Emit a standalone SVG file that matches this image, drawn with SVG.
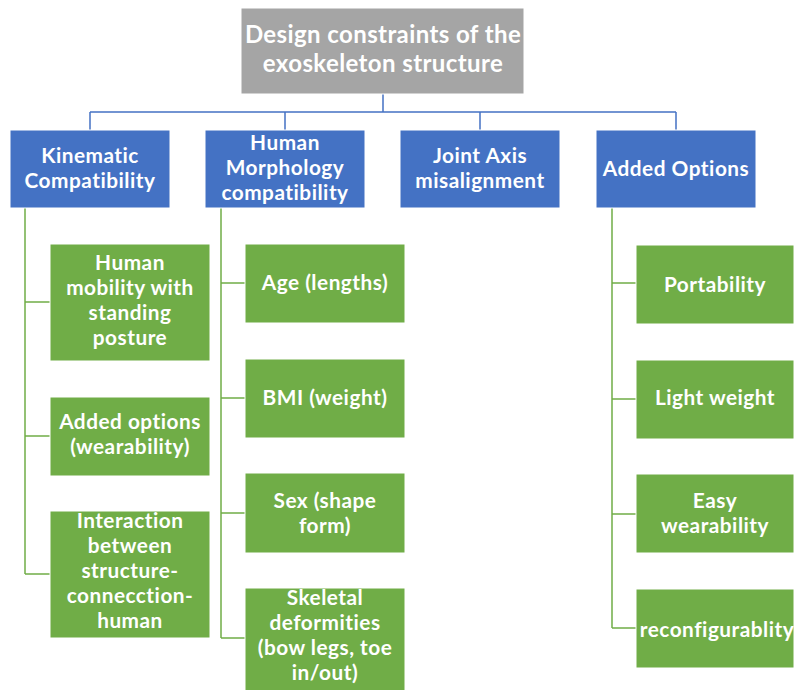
<svg xmlns="http://www.w3.org/2000/svg" width="795" height="690" viewBox="0 0 795 690">
<style>
.root{fill:#A5A5A5;stroke:#ffffff;stroke-width:1}
.l1{fill:#4472C4;stroke:#ffffff;stroke-width:1}
.l2{fill:#70AD47;stroke:#ffffff;stroke-width:1}
text{font-family:Lato,"Open Sans","Liberation Sans",sans-serif;font-weight:700;fill:#ffffff;text-anchor:middle}
.tr{font-size:24px;letter-spacing:0.4px}
.t{font-size:20.8px;letter-spacing:0.5px}
.cb{fill:none;stroke:#4472C4;stroke-width:1.5}
.cg{fill:none;stroke:#70AD47;stroke-width:1.5}
</style>
<rect width="795" height="690" fill="#ffffff"/>
<g id="connectors">
<path class="cb" d="M383 94V112M90 112H676M90 112V130M285 112V130M480 112V130M676 112V130"/>
<path class="cg" d="M25 208V574M25 302H50M25 436H50M25 574H50"/>
<path class="cg" d="M221 208V638M221 283H245M221 398H245M221 513H245M221 638H245"/>
<path class="cg" d="M612 208V628M612 283H636M612 399H636M612 514H636M612 628H636"/>
</g>
<g id="root">
<rect class="root" x="241" y="8" width="283" height="86"/>
<text class="tr" x="383" y="43">Design constraints of the</text>
<text class="tr" x="383" y="72">exoskeleton structure</text>
</g>
<g id="kinematic">
<rect class="l1" x="10" y="130" width="160" height="78"/>
<text class="t" x="90" y="163">Kinematic</text>
<text class="t" x="90" y="188">Compatibility</text>
</g>
<g id="morphology">
<rect class="l1" x="205" y="130" width="160" height="78"/>
<text class="t" x="285" y="150">Human</text>
<text class="t" x="285" y="175">Morphology</text>
<text class="t" x="285" y="200">compatibility</text>
</g>
<g id="joint">
<rect class="l1" x="400" y="130" width="160" height="78"/>
<text class="t" x="480" y="163">Joint Axis</text>
<text class="t" x="480" y="188">misalignment</text>
</g>
<g id="added">
<rect class="l1" x="596" y="130" width="160" height="78"/>
<text class="t" x="676" y="176">Added Options</text>
</g>
<g id="mobility">
<rect class="l2" x="50" y="244" width="160" height="117"/>
<text class="t" x="130" y="270">Human</text>
<text class="t" x="130" y="295">mobility with</text>
<text class="t" x="130" y="320">standing</text>
<text class="t" x="130" y="345">posture</text>
</g>
<g id="wearability-opt">
<rect class="l2" x="50" y="397" width="160" height="79"/>
<text class="t" x="130" y="429">Added options</text>
<text class="t" x="130" y="454">(wearability)</text>
</g>
<g id="interaction">
<rect class="l2" x="50" y="511" width="160" height="127"/>
<text class="t" x="130" y="528">Interaction</text>
<text class="t" x="130" y="553">between</text>
<text class="t" x="130" y="578">structure-</text>
<text class="t" x="130" y="603">connecction-</text>
<text class="t" x="130" y="628">human</text>
</g>
<g id="age">
<rect class="l2" x="245" y="244" width="160" height="79"/>
<text class="t" x="325" y="290">Age (lengths)</text>
</g>
<g id="bmi">
<rect class="l2" x="245" y="359" width="160" height="79"/>
<text class="t" x="325" y="405">BMI (weight)</text>
</g>
<g id="sex">
<rect class="l2" x="245" y="473" width="160" height="80"/>
<text class="t" x="325" y="508">Sex (shape</text>
<text class="t" x="325" y="533">form)</text>
</g>
<g id="skeletal">
<rect class="l2" x="245" y="588" width="160" height="110"/>
<text class="t" x="325" y="605">Skeletal</text>
<text class="t" x="325" y="630">deformities</text>
<text class="t" x="325" y="655">(bow legs, toe</text>
<text class="t" x="325" y="680">in/out)</text>
</g>
<g id="portability">
<rect class="l2" x="636" y="245" width="158" height="79"/>
<text class="t" x="715" y="292">Portability</text>
</g>
<g id="lightweight">
<rect class="l2" x="636" y="360" width="158" height="79"/>
<text class="t" x="715" y="405">Light weight</text>
</g>
<g id="easy">
<rect class="l2" x="636" y="474" width="158" height="79"/>
<text class="t" x="715" y="508">Easy</text>
<text class="t" x="715" y="533">wearability</text>
</g>
<g id="reconfig">
<rect class="l2" x="636" y="589" width="158" height="79"/>
<text class="t" x="717" y="637">reconfigurablity</text>
</g>
</svg>
